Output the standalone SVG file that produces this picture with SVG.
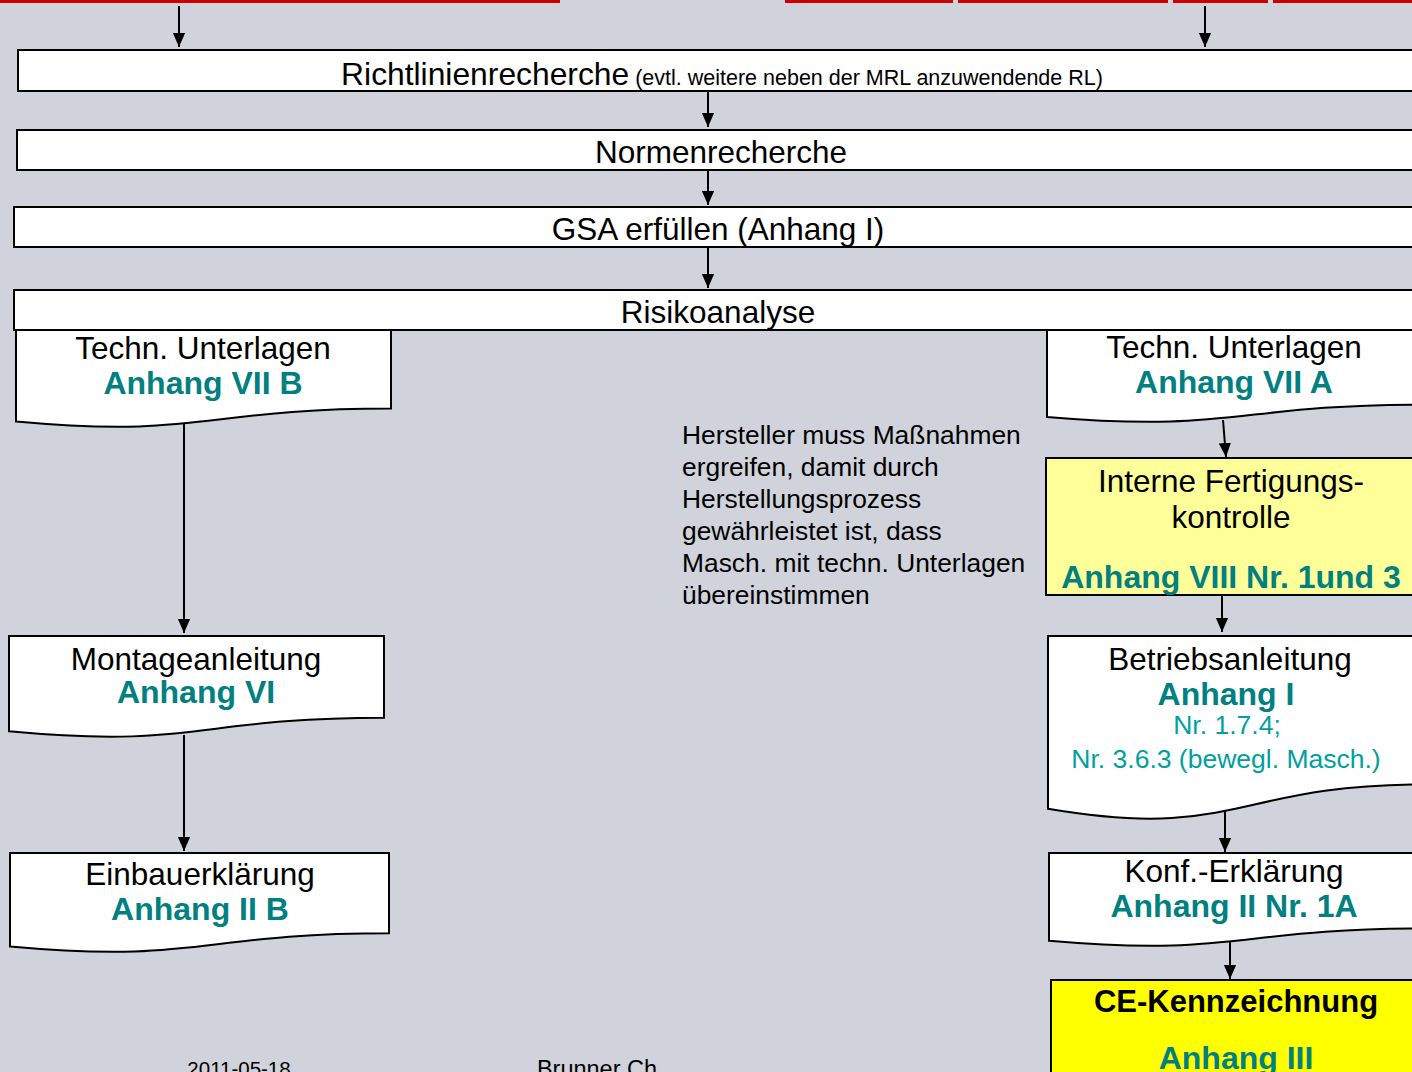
<svg xmlns="http://www.w3.org/2000/svg" width="1412" height="1072" viewBox="0 0 1412 1072">
<style>
text{font-family:"Liberation Sans",Arial,sans-serif;text-anchor:middle}
.box{fill:#fff;stroke:#000;stroke-width:2}
.t{font-size:31.5px;fill:#000}
.b{font-size:32px;font-weight:bold;fill:#008080}
.s{font-size:26.5px;fill:#00a0a0}
.c{stroke:#000;stroke-width:2;fill:none;marker-end:url(#ah)}
</style>
<defs>
<marker id="ah" markerUnits="userSpaceOnUse" markerWidth="14" markerHeight="16" refX="16" refY="7" orient="auto" viewBox="0 0 16 14">
<path d="M0,0 L16,7 L0,14 Z" fill="#000"/>
</marker>
</defs>
<rect width="1412" height="1072" fill="#d0d3db"/>
<g id="top-lines" fill="#cc0000">
<rect x="0" y="0" width="560" height="3"/>
<rect x="785" y="0" width="168" height="3"/>
<rect x="958" y="0" width="210" height="3"/>
<rect x="1173" y="0" width="95" height="3"/>
<rect x="1273" y="0" width="139" height="3"/>
</g>
<g id="n-richtlinien">
<rect class="box" x="18" y="50" width="1408" height="41"/>
<text x="722" y="85"><tspan style="font-size:31.8px" fill="#000">Richtlinienrecherche</tspan><tspan font-size="21.5" fill="#000"> (evtl. weitere neben der MRL anzuwendende RL)</tspan></text>
</g>
<g id="n-normen">
<rect class="box" x="17" y="130" width="1408" height="40"/>
<text class="t" x="721" y="163">Normenrecherche</text>
</g>
<g id="n-gsa">
<rect class="box" x="14" y="207" width="1408" height="40"/>
<text class="t" x="718" y="240">GSA erfüllen (Anhang I)</text>
</g>
<g id="n-risiko">
<rect class="box" x="14" y="290" width="1409" height="40"/>
<text class="t" x="718" y="323">Risikoanalyse</text>
</g>
<g id="n-techn-b">
<path class="box" d="M16,330 H391 V408.6 C203.5,408.6 203.5,438.5 16,421.5 Z"/>
<text class="t" x="203" y="359">Techn. Unterlagen</text>
<text class="b" x="203" y="394">Anhang VII B</text>
</g>
<g id="n-techn-a">
<path class="box" d="M1047,330 H1423 V404.6 C1235,404.6 1235,433 1047,416.9 Z"/>
<text class="t" x="1234" y="358">Techn. Unterlagen</text>
<text class="b" x="1234" y="393">Anhang VII A</text>
</g>
<g id="n-hinweis">
<text x="682" y="444" style="text-anchor:start;font-size:26.4px" fill="#000">
<tspan x="682" y="444">Hersteller muss Maßnahmen</tspan>
<tspan x="682" y="476">ergreifen, damit durch</tspan>
<tspan x="682" y="508">Herstellungsprozess</tspan>
<tspan x="682" y="540">gewährleistet ist, dass</tspan>
<tspan x="682" y="572">Masch. mit techn. Unterlagen</tspan>
<tspan x="682" y="604">übereinstimmen</tspan>
</text>
</g>
<g id="n-interne">
<rect x="1046" y="458" width="372" height="137" fill="#ffff99" stroke="#000" stroke-width="2"/>
<text class="t" x="1231" y="492">Interne Fertigungs-</text>
<text class="t" x="1231" y="528">kontrolle</text>
<text class="b" x="1231" y="588">Anhang VIII Nr. 1und 3</text>
</g>
<g id="n-montage">
<path class="box" d="M9,636 H384 V717.8 C196.5,717.8 196.5,749 9,731.3 Z"/>
<text class="t" x="196" y="670">Montageanleitung</text>
<text class="b" x="196" y="703">Anhang VI</text>
</g>
<g id="n-einbau">
<path class="box" d="M10,853 H389 V933.2 C199.5,933.2 199.5,963.75 10,946.4 Z"/>
<text class="t" x="200" y="885">Einbauerklärung</text>
<text class="b" x="200" y="920">Anhang II B</text>
</g>
<g id="n-betrieb">
<path class="box" d="M1048,636 H1424 V784.4 C1236,784.4 1236,840.9 1048,808.8 Z"/>
<text class="t" x="1230" y="670">Betriebsanleitung</text>
<text class="b" x="1226" y="705">Anhang I</text>
<text class="s" x="1227" y="734">Nr. 1.7.4;</text>
<text class="s" x="1226" y="768">Nr. 3.6.3 (bewegl. Masch.)</text>
</g>
<g id="n-konf">
<path class="box" d="M1049,853 H1424 V928.4 C1236.5,928.4 1236.5,957.1 1049,940.8 Z"/>
<text class="t" x="1234" y="882">Konf.-Erklärung</text>
<text class="b" x="1234" y="917">Anhang II Nr. 1A</text>
</g>
<g id="n-ce">
<rect x="1051" y="980" width="372" height="100" fill="#ffff00" stroke="#000" stroke-width="2"/>
<text x="1236" y="1012" style="font-size:31px;font-weight:bold" fill="#000">CE-Kennzeichnung</text>
<text class="b" x="1236" y="1069">Anhang III</text>
</g>
<g id="footer">
<text x="239" y="1076" style="font-size:20.5px" fill="#000">2011-05-18</text>
<text x="597" y="1077" style="font-size:23.5px" fill="#000">Brunner Ch</text>
</g>
<g id="connectors">
<path class="c" d="M179,6 V47"/>
<path class="c" d="M1205,6 V47"/>
<path class="c" d="M708,91 V127"/>
<path class="c" d="M708,170 V205"/>
<path class="c" d="M708,247 V288"/>
<path class="c" d="M184,424 V633"/>
<path class="c" d="M184,735 V851"/>
<path class="c" d="M1223,420 L1226,457"/>
<path class="c" d="M1222,595 V632"/>
<path class="c" d="M1225,811 V852"/>
<path class="c" d="M1230,941 V979"/>
</g>
</svg>
